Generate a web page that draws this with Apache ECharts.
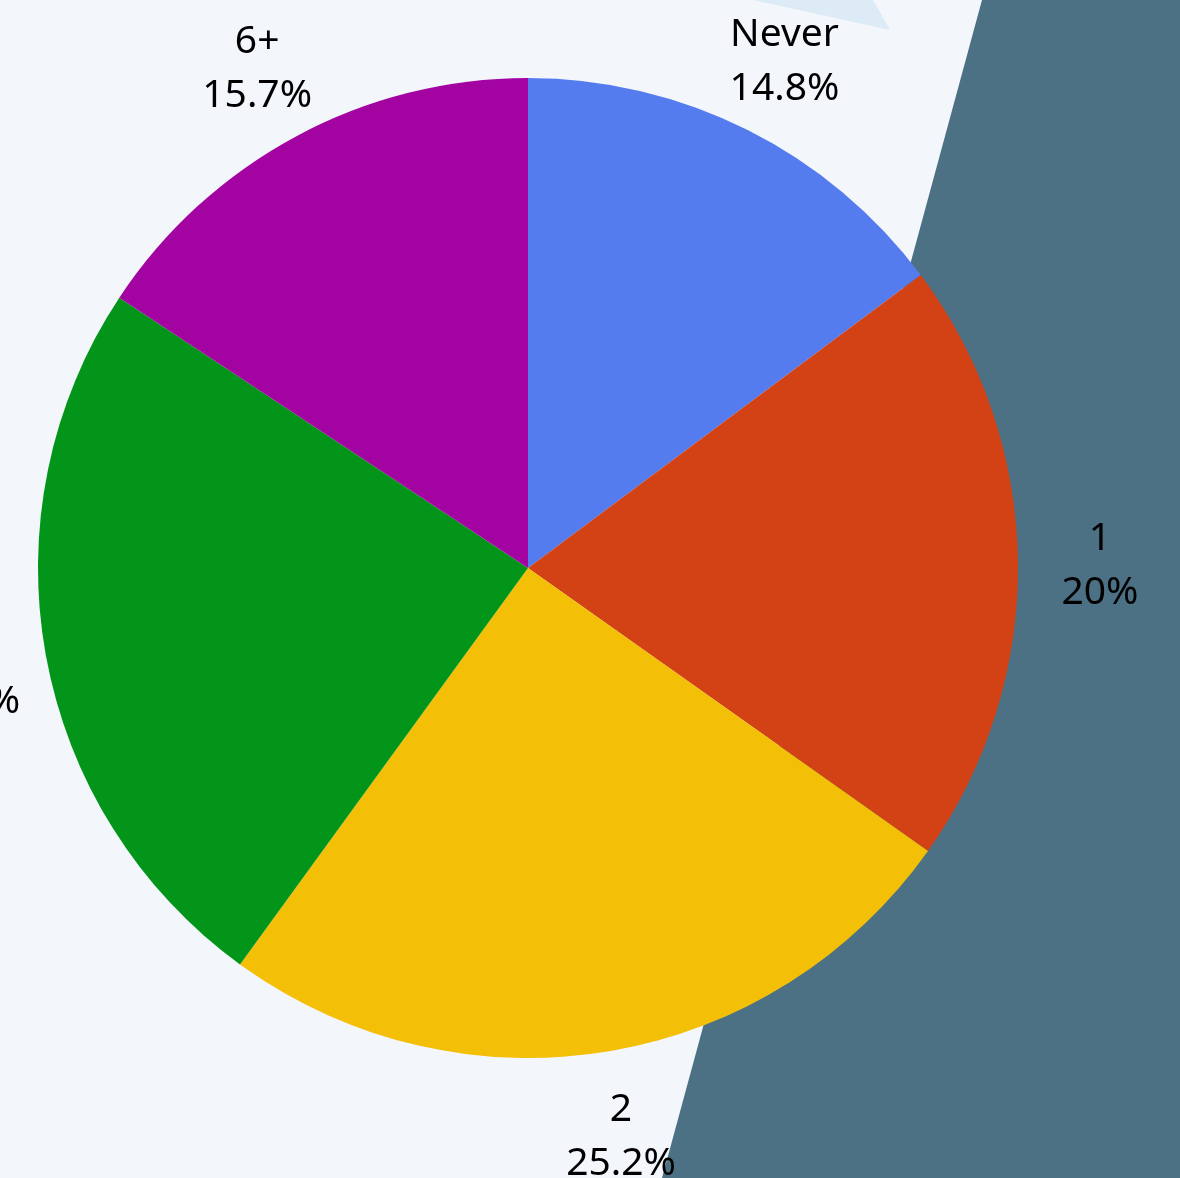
<!DOCTYPE html>
<html>
<head>
<meta charset="utf-8">
<script src="https://cdn.jsdelivr.net/npm/echarts@6/dist/echarts.min.js"></script>
<style>
  html, body { margin: 0; padding: 0; background: #f3f6fb; }
  #chart { width: 1180px; height: 1178px; }
</style>
</head>
<body>
<div id="chart"></div>
<script>
var categories = ["Never", "1", "2", "3-5", "6+"];
var shares = [14.8, 20, 25.2, 24.3, 15.7];
var colors = ["#557cee", "#d24214", "#f3bf07", "#039519", "#a303a0"];

var chart = echarts.init(document.getElementById("chart"));

var pieData = categories.map(function (name, i) {
  return { name: name, value: shares[i], itemStyle: { color: colors[i] } };
});

var option = {
  backgroundColor: "#f3f6fb",
  animation: false,
  // backdrop shapes
  graphic: [
    {
      type: "polygon",
      z: -10,
      shape: { points: [[982, 0], [1180, 0], [1180, 1178], [662, 1178]] },
      style: { fill: "#4c7084" }
    },
    {
      type: "polygon",
      z: -10,
      shape: { points: [[753, 0], [873, 0], [890, 30]] },
      style: { fill: "#ddebf6" }
    }
  ],
  series: [
    {
      type: "pie",
      center: [528, 568],
      radius: [0, 490],
      startAngle: 90,
      clockwise: true,
      silent: true,
      label: { show: false },
      labelLine: { show: false },
      data: pieData
    },
    {
      // invisible ring only used to place the labels
      type: "pie",
      center: [528, 568],
      radius: [549, 589],
      startAngle: 90,
      clockwise: true,
      silent: true,
      itemStyle: { color: "transparent" },
      label: {
        show: true,
        position: "inside",
        formatter: "{b}\n{c}%",
        color: "#000000",
        fontFamily: "Noto Sans",
        fontSize: 39,
        lineHeight: 54,
        align: "center",
        offset: [0, 5]
      },
      labelLine: { show: false },
      data: categories.map(function (name, i) {
        return { name: name, value: shares[i] };
      })
    }
  ]
};

chart.setOption(option);
</script>
</body>
</html>
